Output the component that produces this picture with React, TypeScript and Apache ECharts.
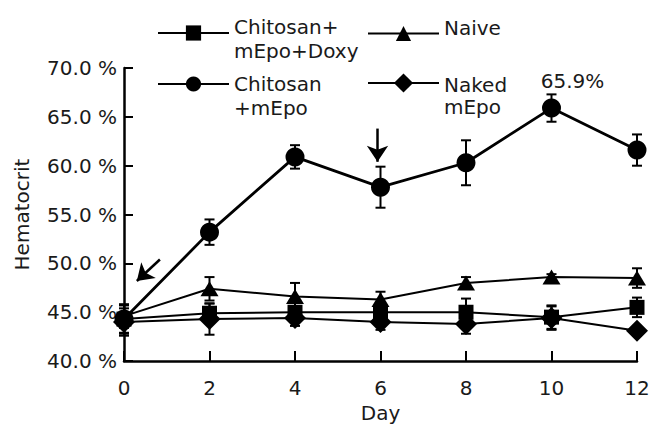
import React, { useEffect, useRef } from "react";
import * as echarts from "echarts";

const days = [0, 2, 4, 6, 8, 10, 12];
const yTicks = [40, 45, 50, 55, 60, 65, 70];

const doxyMean = [44.3, 44.9, 45.0, 45.0, 45.0, 44.5, 45.5];
const doxyErr = [1.4, 1.0, 1.0, 1.0, 1.4, 1.2, 1.0];

const naiveMean = [44.6, 47.4, 46.6, 46.3, 48.0, 48.6, 48.5];
const naiveErr = [1.2, 1.2, 1.4, 0.8, 0.6, 0.3, 1.0];

const chitosanMean = [44.3, 53.2, 60.9, 57.8, 60.3, 65.9, 61.6];
const chitosanErr = [1.5, 1.3, 1.2, 2.1, 2.3, 1.4, 1.6];

const nakedMean = [44.0, 44.3, 44.4, 44.0, 43.8, 44.4, 43.1];
const nakedErr = [1.4, 1.6, 0.8, 0.8, 1.0, 1.2, 0.5];

const peakIndex = 5;
const peakLabel = "65.9%";

// annotation arrows in data units: [fromDay, fromValue, toDay, toValue]
const arrowAnnotations = [
  [0.84, 50.4, 0.3, 48.2],
  [5.93, 63.8, 5.93, 60.4],
];

const FONT = "DejaVu Sans";
const TEXT = "#1a1a1a";
const FS = 20;

const names = {
  doxy: "Chitosan+mEpo+Doxy",
  naive: "Naive",
  chitosan: "Chitosan+mEpo",
  naked: "Naked mEpo",
};
const legendText: Record<string, string> = {
  "Chitosan+mEpo+Doxy": "{a| }\n{b|Chitosan+}\n{b|mEpo+Doxy}",
  Naive: "{b|Naive}\n{a| }",
  "Chitosan+mEpo": "{c| }\n{b|Chitosan}\n{b|+mEpo}",
  "Naked mEpo": "{d| }\n{e|Naked}\n{e|mEpo}",
};

const DIAMOND = "path://M0,-1L1,0L0,1L-1,0Z";

function errorSeries(mean: number[], err: number[]) {
  return {
    type: "custom",
    silent: true,
    z: 3,
    data: days.map((d, i) => [d, mean[i] - err[i], mean[i] + err[i]]),
    encode: { x: 0, y: [1, 2] },
    renderItem: (params: any, api: any) => {
      const x = api.value(0);
      const lo = api.coord([x, api.value(1)]);
      const hi = api.coord([x, api.value(2)]);
      const cw = 5;
      const style = { stroke: "#000", lineWidth: 2 };
      return {
        type: "group",
        children: [
          { type: "line", shape: { x1: lo[0], y1: lo[1], x2: hi[0], y2: hi[1] }, style },
          { type: "line", shape: { x1: lo[0] - cw, y1: lo[1], x2: lo[0] + cw, y2: lo[1] }, style },
          { type: "line", shape: { x1: hi[0] - cw, y1: hi[1], x2: hi[0] + cw, y2: hi[1] }, style },
        ],
      };
    },
  };
}

const richBase = { fontFamily: FONT, fontSize: FS, color: TEXT };

function legendOf(name: string, left: number, top: number, itemHeight = 19) {
  return {
    show: true,
    data: [name],
    left,
    top,
    padding: 0,
    itemWidth: 71,
    itemHeight,
    itemGap: 0,
    selectedMode: false,
    formatter: (n: string) => legendText[n],
    textStyle: {
      fontFamily: FONT,
      fontSize: FS,
      color: TEXT,
      rich: {
        a: { ...richBase, lineHeight: 12 },
        b: { ...richBase, lineHeight: 24 },
        c: { ...richBase, lineHeight: 24 },
        d: { ...richBase, lineHeight: 26 },
        e: { ...richBase, lineHeight: 22 },
      },
    },
  };
}

export default function App() {
  const ref = useRef<HTMLDivElement>(null);
  useEffect(() => {
    document.body.style.margin = "0";
    const chart = echarts.init(ref.current!, null, { renderer: "svg" });
    const lineSeries = (name: string, mean: number[], symbol: string, size: any, width: number, z: number) => ({
      name,
      type: "line",
      symbol,
      symbolSize: size,
      z,
      lineStyle: { color: "#000", width },
      itemStyle: { color: "#000" },
      data: days.map((d, i) => [d, mean[i]]),
    });
    const chitosan: any = lineSeries(names.chitosan, chitosanMean, "circle", 19, 2.8, 6);
    chitosan.data = days.map((d, i) =>
      i === peakIndex
        ? {
            value: [d, chitosanMean[i]],
            label: {
              show: true,
              position: "top",
              formatter: peakLabel,
              offset: [21, -3],
              fontFamily: FONT,
              fontSize: FS,
              color: TEXT,
            },
          }
        : [d, chitosanMean[i]]
    );
    chitosan.markLine = {
      silent: true,
      animation: false,
      symbol: ["none", "arrow"],
      symbolSize: 16,
      label: { show: false },
      lineStyle: { color: "#000", width: 2.5, type: "solid" },
      data: arrowAnnotations.map((a) => [{ coord: [a[0], a[1]] }, { coord: [a[2], a[3]] }]),
    };
    const option: any = {
      animation: false,
      backgroundColor: "#fff",
      textStyle: { fontFamily: FONT },
      grid: { left: 124, right: 24, top: 68, bottom: 59 },
      legend: [
        legendOf(names.doxy, 157, -1),
        legendOf(names.naive, 367, 17.5),
        legendOf(names.chitosan, 157, 50),
        legendOf(names.naked, 367, 51, 24),
      ],
      xAxis: {
        type: "value",
        min: 0,
        max: 12,
        interval: 2,
        name: "Day",
        nameLocation: "middle",
        nameGap: 41,
        nameTextStyle: { fontFamily: FONT, fontSize: FS, color: TEXT },
        splitLine: { show: false },
        axisLine: { lineStyle: { color: "#000", width: 2.5 } },
        axisTick: { inside: true, length: 10, lineStyle: { color: "#000", width: 2 } },
        axisLabel: { fontFamily: FONT, fontSize: FS, color: TEXT, margin: 17 },
      },
      yAxis: {
        type: "value",
        min: yTicks[0],
        max: yTicks[yTicks.length - 1],
        interval: 5,
        name: "Hematocrit",
        nameLocation: "middle",
        nameGap: 92,
        nameTextStyle: { fontFamily: FONT, fontSize: FS, color: TEXT },
        splitLine: { show: false },
        axisLine: { show: true, lineStyle: { color: "#000", width: 2.5 } },
        axisTick: { show: true, inside: true, length: 9, lineStyle: { color: "#000", width: 2 } },
        axisLabel: {
          fontFamily: FONT,
          fontSize: FS,
          color: TEXT,
          margin: 7,
          formatter: (v: number) => v.toFixed(1) + " %",
        },
      },
      series: [
        lineSeries(names.doxy, doxyMean, "rect", 15, 2, 5),
        lineSeries(names.naive, naiveMean, "triangle", [18, 15], 2, 5),
        chitosan,
        lineSeries(names.naked, nakedMean, DIAMOND, 22, 2, 5),
        errorSeries(doxyMean, doxyErr),
        errorSeries(naiveMean, naiveErr),
        errorSeries(chitosanMean, chitosanErr),
        errorSeries(nakedMean, nakedErr),
      ],
    };
    chart.setOption(option);
    return () => chart.dispose();
  }, []);
  return <div ref={ref} style={{ width: 661, height: 428 }} />;
}
